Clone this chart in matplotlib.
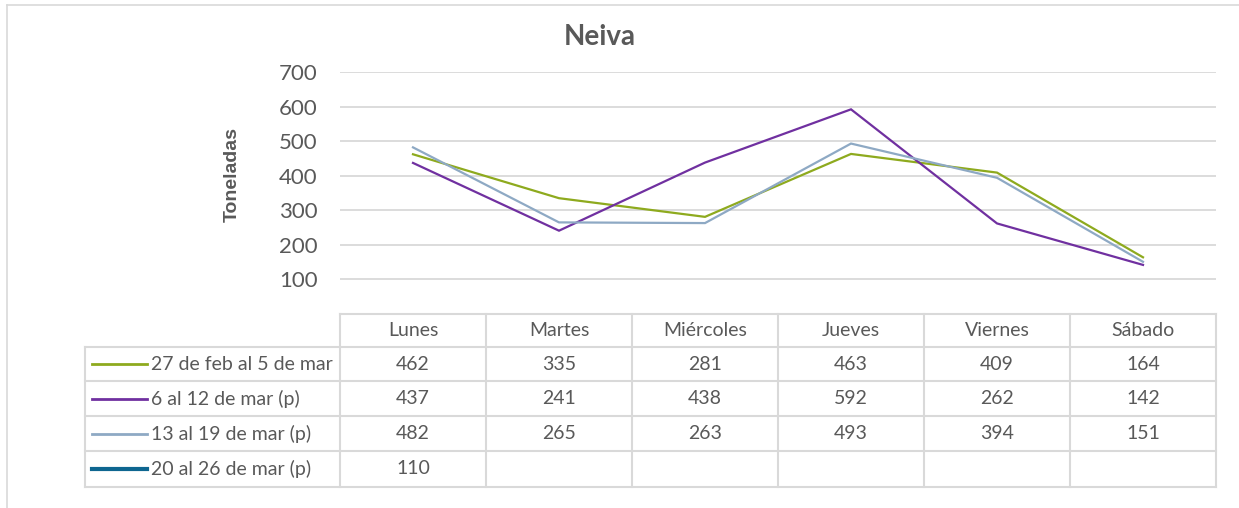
import matplotlib.pyplot as plt
import numpy as np

# data
dias = ["Lunes", "Martes", "Miércoles", "Jueves", "Viernes", "Sábado"]
series = ["27 de feb al 5 de mar", "6 al 12 de mar (p)", "13 al 19 de mar (p)", "20 al 26 de mar (p)"]
feb27 = [462, 335, 281, 463, 409, 164]
mar06 = [437, 241, 438, 592, 262, 142]
mar13 = [482, 265, 263, 493, 394, 151]
mar20 = [110]
colores = ["#8EAA1E", "#7030A0", "#8EA9C4", "#0E6690"]
anchos = [1.6, 1.6, 1.6, 2.6]

plt.rcParams['font.family'] = ['Lato', 'DejaVu Sans']
gris = "#595959"
W, H = 1239, 508

fig = plt.figure(figsize=(W / 100, H / 100), dpi=100)


def fx(px):
    return px / W


def fy(py):
    return 1 - py / H


# outer frame
fig.add_artist(plt.Line2D([fx(7), 1], [fy(5), fy(5)], color="#D9D9D9", lw=1.2))
fig.add_artist(plt.Line2D([fx(7), fx(7)], [fy(5), 0], color="#D9D9D9", lw=1.2))

x0, x1 = 340, 1216
ytop, ybot = 72, 314
ax = fig.add_axes([fx(x0), fy(ybot), fx(x1 - x0), (ybot - ytop) / H])
ax.set_xlim(-0.5, len(dias) - 0.5)
ax.set_ylim(0, 700)
ax.set_yticks(np.arange(100, 800, 100))
for v in range(100, 800, 100):
    ax.axhline(v, color="#D9D9D9", lw=1.3, zorder=0)
for s in ax.spines.values():
    s.set_visible(False)
ax.tick_params(axis="y", length=0, labelsize=16, labelcolor=gris, pad=16)
ax.set_xticks([])

datos = [feb27, mar06, mar13, mar20]
for d, c, lw in zip(datos, colores, anchos):
    ax.plot(range(len(d)), d, color=c, lw=lw, solid_joinstyle="miter")

fig.text(fx(600), fy(37), "Neiva", ha="center", va="center", fontsize=20,
         fontweight="bold", color=gris)
fig.text(fx(232), fy(175), "Toneladas", ha="center", va="center", rotation=90,
         fontsize=14, fontweight="bold", color=gris, family="Liberation Sans")

# data table
tleft = 85
rows_y = [314, 347, 381, 416, 451, 487]
colw = (x1 - x0) / len(dias)
tab = fig.add_axes([0, 0, 1, 1])
tab.set_xlim(0, W)
tab.set_ylim(H, 0)
tab.axis("off")
tab.patch.set_alpha(0)
lc = "#D9D9D9"
# horizontal lines
tab.plot([x0, x1], [rows_y[0], rows_y[0]], color=lc, lw=1.5)
for yy in rows_y[1:]:
    tab.plot([tleft, x1], [yy, yy], color=lc, lw=1.5)
# vertical lines
tab.plot([tleft, tleft], [rows_y[1], rows_y[-1]], color=lc, lw=1.5)
for i in range(len(dias) + 1):
    xx = x0 + i * colw
    tab.plot([xx, xx], [rows_y[0], rows_y[-1]], color=lc, lw=1.5)

fs = 14
for i, d in enumerate(dias):
    tab.text(x0 + (i + 0.5) * colw, (rows_y[0] + rows_y[1]) / 2, d, ha="center",
             va="center", fontsize=fs, color=gris)

for r, (nombre, d, c, lw) in enumerate(zip(series, datos, colores, anchos)):
    yc = (rows_y[r + 1] + rows_y[r + 2]) / 2
    tab.plot([92, 147], [yc, yc], color=c, lw=lw + 0.4)
    tab.text(151, yc, nombre, ha="left", va="center", fontsize=fs, color=gris)
    for i, v in enumerate(d):
        tab.text(x0 + (i + 0.5) * colw, yc, str(v), ha="center", va="center",
                 fontsize=fs, color=gris)

fig.savefig("out.png", dpi=100)
